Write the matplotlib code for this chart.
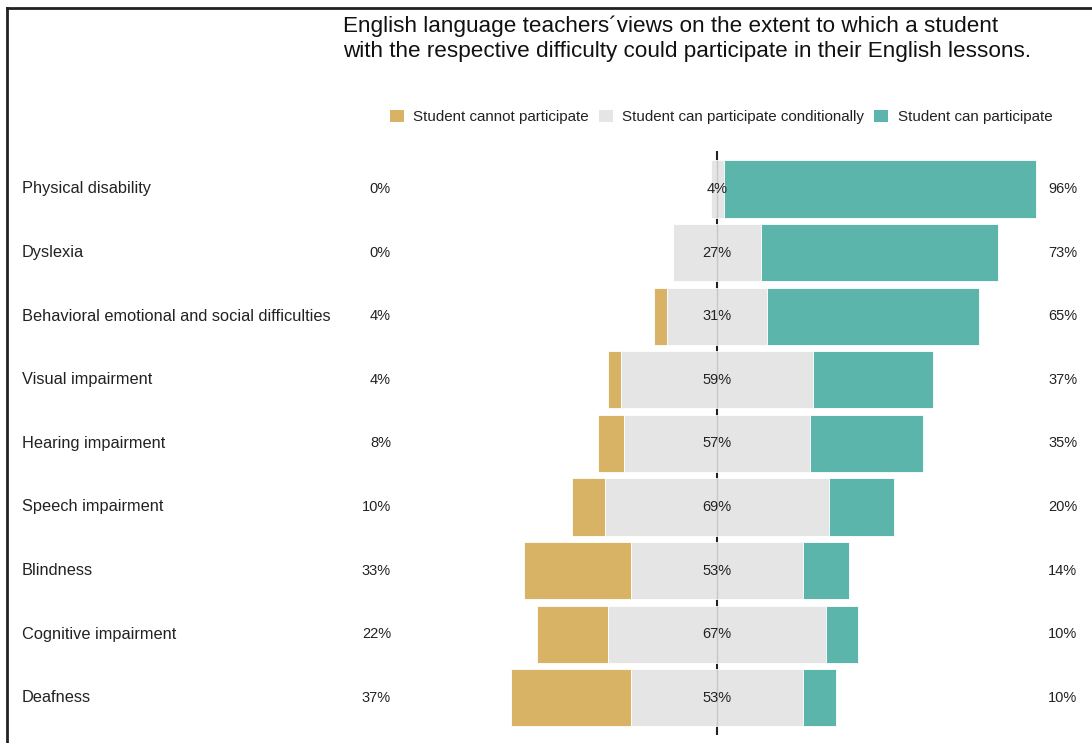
import matplotlib
matplotlib.use("Agg")
import matplotlib.pyplot as plt
import matplotlib.transforms as mtransforms
from matplotlib.patches import Patch
from matplotlib.lines import Line2D

plt.rcParams['font.family'] = ['Liberation Sans', 'DejaVu Sans']

categories = ["Physical disability", "Dyslexia", "Behavioral emotional and social difficulties",
              "Visual impairment", "Hearing impairment", "Speech impairment",
              "Blindness", "Cognitive impairment", "Deafness"]
cannot = [0, 0, 4, 4, 8, 10, 33, 22, 37]
conditionally = [4, 27, 31, 59, 57, 69, 53, 67, 53]
can = [96, 73, 65, 37, 35, 20, 14, 10, 10]
series_names = ["Student cannot participate", "Student can participate conditionally",
                "Student can participate"]
title_lines = ["English language teachers\u00b4views on the extent to which a student",
               "with the respective difficulty could participate in their English lessons."]

c_cannot = "#D9B365"
c_cond = "#E5E5E5"
c_can = "#5BB5AA"
txt = "#222222"

W, H = 1092, 743
fig = plt.figure(figsize=(W / 100, H / 100), dpi=100)

ax_l, ax_r, ax_t, ax_b = 400, 1045, 151, 735
ax = fig.add_axes([ax_l / W, 1 - ax_b / H, (ax_r - ax_l) / W, (ax_b - ax_t) / H])
cx, scale = 717, 3.25
ax.set_xlim((ax_l - cx) / scale, (ax_r - cx) / scale)
y0, dy = 189, 63.6
ax.set_ylim((ax_b - y0) / dy, (ax_t - y0) / dy)
ax.axis("off")

ys = list(range(len(categories)))
left_cond = [-c / 2 for c in conditionally]
left_cannot = [-c / 2 - g for c, g in zip(conditionally, cannot)]
left_can = [c / 2 for c in conditionally]
h = 0.9
ax.axvline(0, color="#222222", lw=1.5, zorder=1)
ax.barh(ys, cannot, left=left_cannot, height=h, color=c_cannot, edgecolor="white", lw=0.6, zorder=2)
ax.barh(ys, conditionally, left=left_cond, height=h, color=c_cond, edgecolor="white", lw=0.6, zorder=2)
ax.barh(ys, can, left=left_can, height=h, color=c_can, edgecolor="white", lw=0.6, zorder=2)
ax.vlines([0] * len(ys), [y - h / 2 for y in ys], [y + h / 2 for y in ys], color="#c8c8c8", lw=1.0, zorder=3)

tr = mtransforms.blended_transform_factory(fig.transFigure, ax.transData)
fs = 11.8
pfs = 10.5
for y, cat, g, n, p in zip(ys, categories, cannot, conditionally, can):
    ax.text(22 / W, y, cat, transform=tr, ha="left", va="center", fontsize=fs, color=txt)
    ax.text(391 / W, y, f"{g}%", transform=tr, ha="right", va="center", fontsize=pfs, color=txt)
    ax.text(0, y, f"{n}%", ha="center", va="center", fontsize=pfs, color=txt, zorder=4)
    ax.text(1048 / W, y, f"{p}%", transform=tr, ha="left", va="center", fontsize=pfs, color=txt)

for line, base in zip(title_lines, (32, 57)):
    fig.text(343 / W, 1 - base / H, line, ha="left", va="baseline", fontsize=16.2, color="#111111")

handles = [Patch(facecolor=c, edgecolor="none") for c in (c_cannot, c_cond, c_can)]
fig.legend(handles, series_names, loc="center left", bbox_to_anchor=(390 / W, 1 - 117 / H),
           ncol=3, frameon=False, fontsize=10.9, handlelength=0.9, handleheight=0.9,
           handletextpad=0.65, columnspacing=0.65, labelcolor=txt, borderaxespad=0, borderpad=0)

fig.add_artist(Line2D([7 / W, 1], [1 - 8 / H, 1 - 8 / H], transform=fig.transFigure, color="#222222", lw=2))
fig.add_artist(Line2D([7 / W, 7 / W], [0, 1 - 8 / H], transform=fig.transFigure, color="#222222", lw=2))

fig.savefig("out.png", dpi=100, facecolor="white")
